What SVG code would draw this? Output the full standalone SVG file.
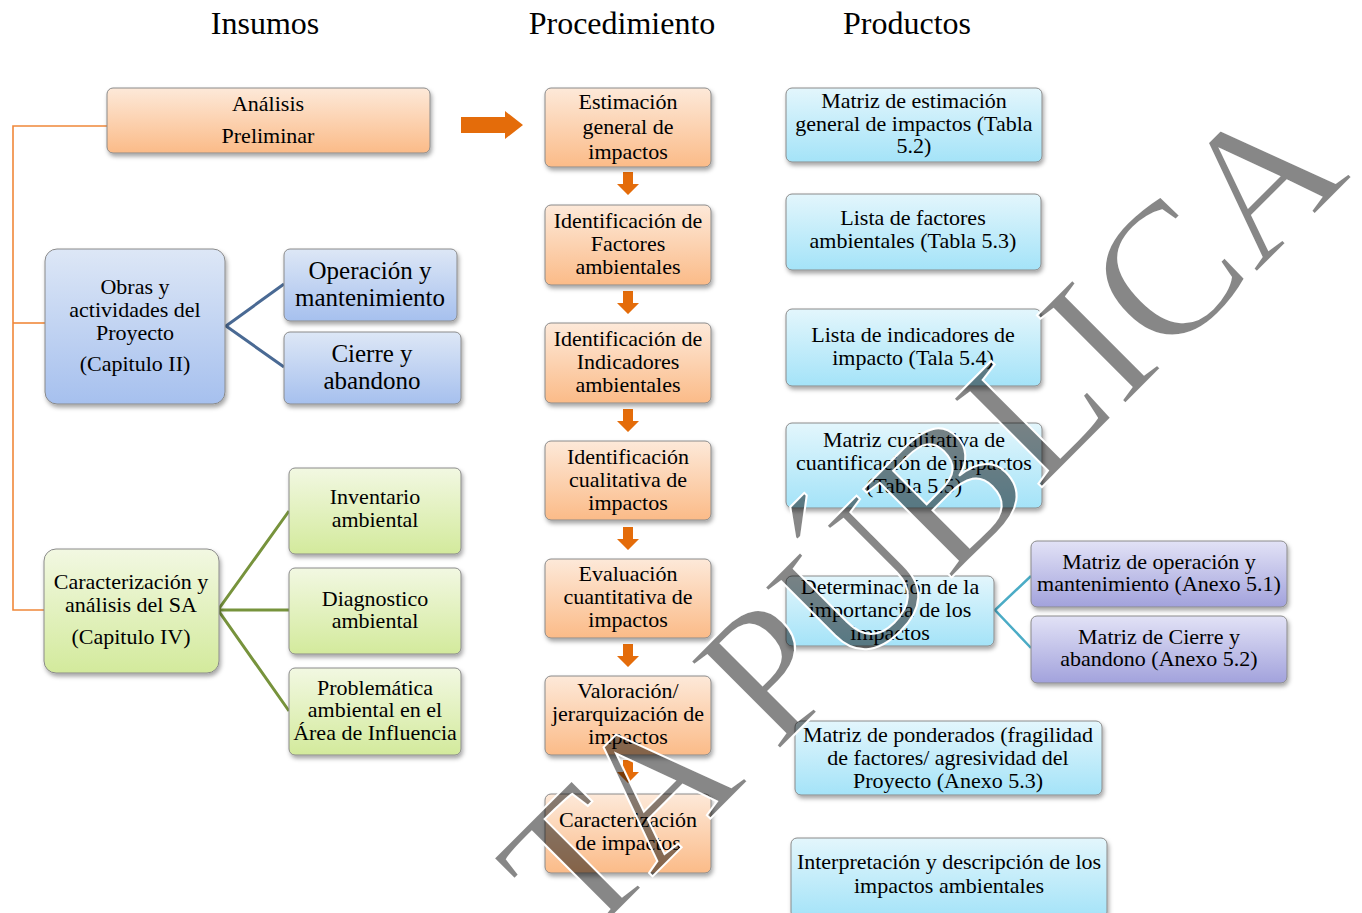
<svg xmlns="http://www.w3.org/2000/svg" width="1362" height="913" viewBox="0 0 1362 913">
<defs>
<linearGradient id="gOr" x1="0" y1="0" x2="0" y2="1"><stop offset="0" stop-color="#fde9d9"/><stop offset="1" stop-color="#fbbb88"/></linearGradient>
<linearGradient id="gBl" x1="0" y1="0" x2="0" y2="1"><stop offset="0" stop-color="#dde7f6"/><stop offset="1" stop-color="#a6c0ee"/></linearGradient>
<linearGradient id="gGr" x1="0" y1="0" x2="0" y2="1"><stop offset="0" stop-color="#f2f8e2"/><stop offset="1" stop-color="#d3ea9c"/></linearGradient>
<linearGradient id="gCy" x1="0" y1="0" x2="0" y2="1"><stop offset="0" stop-color="#e3f6fc"/><stop offset="1" stop-color="#a4e3f8"/></linearGradient>
<linearGradient id="gPu" x1="0" y1="0" x2="0" y2="1"><stop offset="0" stop-color="#e2e2f6"/><stop offset="1" stop-color="#a2a2dc"/></linearGradient>
<filter id="sh" x="-10%" y="-10%" width="125%" height="135%"><feDropShadow dx="1.5" dy="3" stdDeviation="2" flood-color="#000" flood-opacity="0.35"/></filter>
</defs>
<style>
.t{font-family:"Liberation Serif","Times New Roman",serif;font-size:22px;fill:#000;text-anchor:middle}
.h{font-family:"Liberation Serif","Times New Roman",serif;font-size:32px;fill:#000;text-anchor:middle}
.big{font-size:25px}
.bx{stroke:#8a8a8a;stroke-width:1;filter:url(#sh)}
.or{fill:url(#gOr)}.bl{fill:url(#gBl)}.gr{fill:url(#gGr)}.cy{fill:url(#gCy)}.pu{fill:url(#gPu)}
.ar{fill:#e46c0a}
.wm{font-family:"Liberation Serif","Times New Roman",serif;font-size:191px;fill:#000;fill-opacity:0.47;stroke:#fff;stroke-width:2}
</style>
<rect width="1362" height="913" fill="#fff"/>
<g id="headers">
<text class="h" x="265" y="34">Insumos</text>
<text class="h" x="622" y="34">Procedimiento</text>
<text class="h" x="907" y="34">Productos</text>
</g>
<g id="connectors" fill="none">
<polyline points="107,126 13,126 13,610 44,610" stroke="#f0883a" stroke-width="1.6"/>
<line x1="13" y1="323" x2="45" y2="323" stroke="#f0883a" stroke-width="1.6"/>
<path d="M284,284 L226,326 L284,367" stroke="#4a6a94" stroke-width="3"/>
<path d="M289,511 L218,610 L289,711 M218,610 L289,610" stroke="#77933c" stroke-width="3"/>
<path d="M1031,576 L995,610 L1031,648" stroke="#4bacc6" stroke-width="2.5"/>
<polygon class="ar" points="461,117 505,117 505,111 523,125 505,139 505,133 461,133"/>
<path class="ar" d="M623,172h10v12h6l-11,11l-11,-11h6z"/>
<path class="ar" d="M623,291h10v12h6l-11,11l-11,-11h6z"/>
<path class="ar" d="M623,409h10v12h6l-11,11l-11,-11h6z"/>
<path class="ar" d="M623,527h10v12h6l-11,11l-11,-11h6z"/>
<path class="ar" d="M623,644h10v12h6l-11,11l-11,-11h6z"/>
<path class="ar" d="M623,760h10v12h6l-11,11l-11,-11h6z"/>
</g>
<g id="n-analisis"><rect class="bx or" x="107" y="88" width="323" height="65" rx="6"/><text class="t" x="268" y="111">Análisis</text><text class="t" x="268" y="143">Preliminar</text></g>
<g id="n-obras"><rect class="bx bl" x="45" y="249" width="180" height="155" rx="12"/><text class="t" x="135" y="294">Obras y</text><text class="t" x="135" y="317">actividades del</text><text class="t" x="135" y="340">Proyecto</text><text class="t" x="135" y="371">(Capitulo II)</text></g>
<g id="n-operacion"><rect class="bx bl" x="284" y="249" width="173" height="72" rx="6"/><text class="t big" x="370" y="279">Operación y</text><text class="t big" x="370" y="306">mantenimiento</text></g>
<g id="n-cierre"><rect class="bx bl" x="284" y="332" width="177" height="72" rx="6"/><text class="t big" x="372" y="362">Cierre y</text><text class="t big" x="372" y="389">abandono</text></g>
<g id="n-caract"><rect class="bx gr" x="44" y="549" width="175" height="124" rx="12"/><text class="t" x="131" y="589">Caracterización y</text><text class="t" x="131" y="612">análisis del SA</text><text class="t" x="131" y="644">(Capitulo IV)</text></g>
<g id="n-inventario"><rect class="bx gr" x="289" y="468" width="172" height="86" rx="6"/><text class="t" x="375" y="504">Inventario</text><text class="t" x="375" y="527">ambiental</text></g>
<g id="n-diagnostico"><rect class="bx gr" x="289" y="568" width="172" height="86" rx="6"/><text class="t" x="375" y="606">Diagnostico</text><text class="t" x="375" y="628">ambiental</text></g>
<g id="n-problematica"><rect class="bx gr" x="289" y="668" width="172" height="87" rx="6"/><text class="t" x="375" y="695">Problemática</text><text class="t" x="375" y="717">ambiental en el</text><text class="t" x="375" y="740">Área de Influencia</text></g>
<g id="n-p1"><rect class="bx or" x="545" y="88" width="166" height="79" rx="6"/><text class="t" x="628" y="109">Estimación</text><text class="t" x="628" y="134">general de</text><text class="t" x="628" y="159">impactos</text></g>
<g id="n-p2"><rect class="bx or" x="545" y="205" width="166" height="80" rx="6"/><text class="t" x="628" y="228">Identificación de</text><text class="t" x="628" y="251">Factores</text><text class="t" x="628" y="274">ambientales</text></g>
<g id="n-p3"><rect class="bx or" x="545" y="323" width="166" height="80" rx="6"/><text class="t" x="628" y="346">Identificación de</text><text class="t" x="628" y="369">Indicadores</text><text class="t" x="628" y="392">ambientales</text></g>
<g id="n-p4"><rect class="bx or" x="545" y="441" width="166" height="79" rx="6"/><text class="t" x="628" y="464">Identificación</text><text class="t" x="628" y="487">cualitativa de</text><text class="t" x="628" y="510">impactos</text></g>
<g id="n-p5"><rect class="bx or" x="545" y="559" width="166" height="79" rx="6"/><text class="t" x="628" y="581">Evaluación</text><text class="t" x="628" y="604">cuantitativa de</text><text class="t" x="628" y="627">impactos</text></g>
<g id="n-p6"><rect class="bx or" x="545" y="676" width="166" height="79" rx="6"/><text class="t" x="628" y="698">Valoración/</text><text class="t" x="628" y="721">jerarquización de</text><text class="t" x="628" y="744">impactos</text></g>
<g id="n-p7"><rect class="bx or" x="545" y="794" width="166" height="79" rx="6"/><text class="t" x="628" y="827">Caracterización</text><text class="t" x="628" y="850">de impactos</text></g>
<g id="n-r1"><rect class="bx cy" x="786" y="88" width="256" height="74" rx="6"/><text class="t" x="914" y="108">Matriz de estimación</text><text class="t" x="914" y="131">general de impactos (Tabla</text><text class="t" x="914" y="153">5.2)</text></g>
<g id="n-r2"><rect class="bx cy" x="786" y="194" width="255" height="76" rx="6"/><text class="t" x="913" y="225">Lista de factores</text><text class="t" x="913" y="248">ambientales (Tabla 5.3)</text></g>
<g id="n-r3"><rect class="bx cy" x="786" y="309" width="255" height="77" rx="6"/><text class="t" x="913" y="342">Lista de indicadores de</text><text class="t" x="913" y="365">impacto (Tala 5.4)</text></g>
<g id="n-r4"><rect class="bx cy" x="786" y="423" width="256" height="85" rx="6"/><text class="t" x="914" y="447">Matriz cualitativa de</text><text class="t" x="914" y="470">cuantificación de impactos</text><text class="t" x="914" y="493">(Tabla 5.5)</text></g>
<g id="n-r5"><rect class="bx cy" x="786" y="576" width="208" height="70" rx="6"/><text class="t" x="890" y="594">Determinación de la</text><text class="t" x="890" y="617">importancia de los</text><text class="t" x="890" y="640">impactos</text></g>
<g id="n-r6"><rect class="bx pu" x="1031" y="541" width="256" height="66" rx="6"/><text class="t" x="1159" y="569">Matriz de operación y</text><text class="t" x="1159" y="591">mantenimiento (Anexo 5.1)</text></g>
<g id="n-r7"><rect class="bx pu" x="1031" y="616" width="256" height="67" rx="6"/><text class="t" x="1159" y="644">Matriz de Cierre y</text><text class="t" x="1159" y="666">abandono (Anexo 5.2)</text></g>
<g id="n-r8"><rect class="bx cy" x="795" y="721" width="307" height="74" rx="6"/><text class="t" x="948" y="742">Matriz de ponderados (fragilidad</text><text class="t" x="948" y="765">de factores/ agresividad del</text><text class="t" x="948" y="788">Proyecto (Anexo 5.3)</text></g>
<g id="n-r9"><rect class="bx cy" x="791" y="838" width="316" height="80" rx="6"/><text class="t" x="949" y="869">Interpretación y descripción de los</text><text class="t" x="949" y="893">impactos ambientales</text></g>
<g id="watermark"><text class="wm" text-anchor="end" transform="translate(1353,176) rotate(-45)">TA PÚBLICA</text></g>
</svg>
